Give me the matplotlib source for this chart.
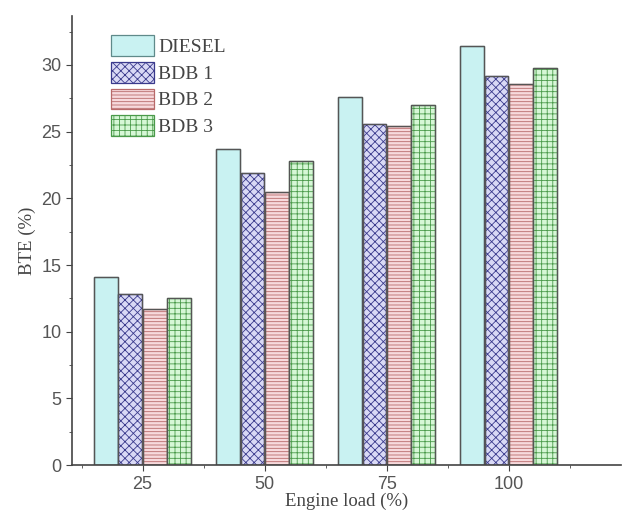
import numpy as np
import matplotlib
matplotlib.use('Agg')
import matplotlib.pyplot as plt

plt.rcParams['hatch.linewidth'] = 0.6

loads = [25, 50, 75, 100]
diesel = [14.1, 23.7, 27.6, 31.4]
bdb1 = [12.8, 21.9, 25.6, 29.2]
bdb2 = [11.7, 20.5, 25.4, 28.6]
bdb3 = [12.5, 22.8, 27.0, 29.8]

series = [
    ('DIESEL', diesel, '#c9f2f2', '#5f8a8a', ''),
    ('BDB 1', bdb1, '#d9d9f5', '#3a3a8c', 'xxxx'),
    ('BDB 2', bdb2, '#f7d9dc', '#b86a6a', '-----'),
    ('BDB 3', bdb3, '#d6f7d6', '#4a9a4a', '+++'),
]

fig = plt.figure(figsize=(6.24, 5.18), dpi=100)
ax = fig.add_axes([0.115, 0.102, 0.88, 0.868])

width = 5
offsets = [-7.5, -2.5, 2.5, 7.5]
x = np.array(loads, dtype=float)
for (name, vals, face, hcol, hatch), off in zip(series, offsets):
    ax.bar(x + off, vals, width=width * 0.97, color=face, edgecolor=hcol,
           hatch=hatch, linewidth=0.9, label=name)
    # dark outline over the hatch colour
    ax.bar(x + off, vals, width=width * 0.97, fill=False, edgecolor='#555555',
           linewidth=1.0)

ax.set_xlim(10.5, 123)
ax.set_ylim(0, 33.7)
ax.set_xticks(loads)
ax.set_xticks([12.5, 37.5, 62.5, 87.5, 112.5], minor=True)
ax.set_yticks([0, 5, 10, 15, 20, 25, 30])
ax.set_yticks([2.5, 7.5, 12.5, 17.5, 22.5, 27.5, 32.5], minor=True)

ax.spines['top'].set_visible(False)
ax.spines['right'].set_visible(False)
for s in ['left', 'bottom']:
    ax.spines[s].set_color('#444444')
    ax.spines[s].set_linewidth(1.2)

ax.tick_params(axis='both', which='major', length=4, color='#444444',
               labelsize=13, labelcolor='#555555')
ax.tick_params(axis='both', which='minor', length=2.5, color='#444444')
for lab in ax.get_xticklabels() + ax.get_yticklabels():
    lab.set_family('Liberation Sans')

ax.set_xlabel('Engine load (%)', family='Liberation Serif', fontsize=13.5,
              color='#444444', labelpad=0)
ax.set_ylabel('BTE (%)', family='Liberation Serif', fontsize=13.5,
              color='#444444', labelpad=4)

handles, labels = ax.get_legend_handles_labels()
ax.legend(handles, labels, loc='upper left', bbox_to_anchor=(0.04, 0.995),
          frameon=False, prop={'family': 'Liberation Serif', 'size': 14},
          handlelength=2.2, handleheight=1.25, labelspacing=0.3,
          handletextpad=0.2, borderaxespad=0.5, labelcolor='#444444')

plt.savefig('out.png', dpi=100)
